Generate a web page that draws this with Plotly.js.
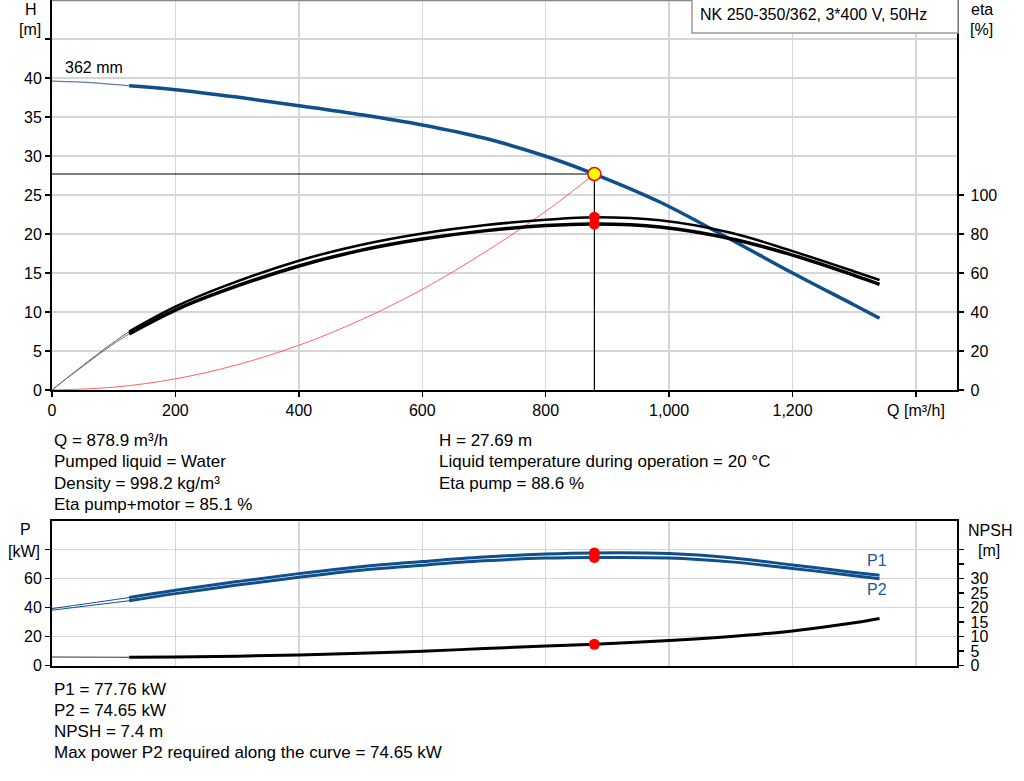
<!DOCTYPE html>
<html><head><meta charset="utf-8">
<script src="https://cdn.plot.ly/plotly-3.0.1.min.js"></script>
<style>html,body{margin:0;padding:0;background:#fff;}#chart{width:1024px;height:781px;}</style>
</head><body><div id="chart"></div>
<script>
// ---- data ----
const opQ = 878.9, opH = 27.69, opEtaPump = 88.6, opEtaPM = 85.1, opP1 = 77.76, opP2 = 74.65, opNPSH = 7.4;

const qHThin = [0, 40, 80, 125];
const hThin = [39.6, 39.5, 39.3, 39.0];
const qH = [125, 200, 300, 400, 500, 600, 700, 800, 878.9, 985, 1100, 1200, 1300, 1341];
const hMain = [39.0, 38.5, 37.55, 36.45, 35.3, 33.98, 32.3, 29.97, 27.69, 24.1, 19.3, 15.0, 10.9, 9.2];

const qSys = [0, 100, 200, 300, 400, 500, 600, 700, 800, 878.9];
const hSys = [0, 0.36, 1.43, 3.23, 5.73, 8.96, 12.9, 17.6, 22.9, 27.69];

const qEtaThin = [0, 30, 60, 90, 125];
const etaPumpThin = [0, 7.6, 15.0, 22.2, 30.0];
const etaPMThin = [0, 7.4, 14.5, 21.5, 28.8];
const qEta = [125, 200, 274, 400, 500, 600, 700, 800, 878.9, 985, 1100, 1200, 1300, 1341];
const etaPump = [30.0, 42.7, 52.6, 66.3, 74.4, 80.3, 84.5, 87.3, 88.6, 87.0, 80.6, 71.2, 60.8, 56.4];
const etaPM = [28.8, 41.0, 50.4, 63.6, 71.6, 77.4, 81.6, 84.3, 85.1, 83.6, 77.6, 69.2, 58.8, 54.2];

const qPThin = [0, 60, 125];
const p1Thin = [39.4, 43.0, 47.0];
const p2Thin = [38.3, 41.4, 44.8];
const qP = [125, 200, 300, 400, 500, 600, 700, 800, 878.9, 1000, 1100, 1200, 1300, 1341];
const p1 = [47.0, 52.0, 58.0, 63.5, 68.3, 71.8, 74.9, 77.0, 77.76, 77.3, 74.4, 69.5, 64.3, 62.3];
const p2 = [44.8, 49.7, 55.6, 61.0, 65.8, 69.3, 72.3, 74.2, 74.65, 74.3, 71.6, 67.1, 62.1, 60.0];

const qNThin = [0, 125];
const npshThin = [3.0, 2.9];
const qN = [125, 200, 300, 400, 500, 600, 700, 800, 878.9, 1000, 1100, 1200, 1300, 1341];
const npsh = [2.9, 3.0, 3.3, 3.7, 4.3, 5.0, 5.9, 6.75, 7.4, 8.7, 10.1, 12.0, 14.8, 16.3];

const qTicks = [0, 200, 400, 600, 800, 1000, 1200, 1400];
const qTickText = ['0', '200', '400', '600', '800', '1,000', '1,200', 'Q [m³/h]'];
const hTicks = [0, 5, 10, 15, 20, 25, 30, 35, 40, 45];
const hTickText = ['0', '5', '10', '15', '20', '25', '30', '35', '40', ''];
const etaTicks = [0, 20, 40, 60, 80, 100];
const pTicks = [0, 20, 40, 60, 80];
const pTickText = ['0', '20', '40', '60', ''];
const nTicks = [0, 5, 10, 15, 20, 25, 30, 35, 40];
const nTickText = ['0', '5', '10', '15', '20', '25', '30', '', ''];

const infoLeft = ['Q = 878.9 m³/h', 'Pumped liquid = Water', 'Density = 998.2 kg/m³', 'Eta pump+motor = 85.1 %'];
const infoRight = ['H = 27.69 m', 'Liquid temperature during operation = 20 °C', 'Eta pump = 88.6 %'];
const infoBottom = ['P1 = 77.76 kW', 'P2 = 74.65 kW', 'NPSH = 7.4 m', 'Max power P2 required along the curve = 74.65 kW'];

// ---- styling ----
const BLUE = '#0f4f8c';
const FONT = 'Liberation Sans, Arial, sans-serif';
const W = 1024, Hh = 781;
const px = x => x / W, py = y => 1 - y / Hh;

const traces = [];
const line = (x, y, color, width, xa, ya, extra) => Object.assign({
  type: 'scatter', mode: 'lines', x: x, y: y, xaxis: xa, yaxis: ya,
  line: {color: color, width: width, shape: 'spline', smoothing: 1}, hoverinfo: 'skip'
}, extra || {});

// operating point lines
traces.push(line([0, opQ], [opH, opH], '#000', 1, 'x', 'y', {line: {color: '#000', width: 1.2}}));
traces.push(line([opQ, opQ], [0, opH], '#000', 1, 'x', 'y', {line: {color: '#000', width: 1.2}}));
// system curve
traces.push(line(qSys, hSys, 'rgba(255,60,60,0.8)', 1, 'x', 'y'));
// eta curves
traces.push(line(qEtaThin, etaPumpThin, '#555', 1, 'x', 'y2'));
traces.push(line(qEtaThin, etaPMThin, '#777', 1, 'x', 'y2'));
traces.push(line(qEta, etaPump, '#000', 2.5, 'x', 'y2'));
traces.push(line(qEta, etaPM, '#000', 3.5, 'x', 'y2'));
// H curve
traces.push(line(qHThin, hThin, '#5a7fa8', 1.2, 'x', 'y'));
traces.push(line(qH, hMain, BLUE, 3.5, 'x', 'y'));
// markers top
traces.push({type: 'scatter', mode: 'markers', x: [opQ, opQ], y: [opEtaPump, opEtaPM], xaxis: 'x', yaxis: 'y2',
  marker: {color: '#ff0000', size: 11}, hoverinfo: 'skip'});
traces.push({type: 'scatter', mode: 'markers', x: [opQ], y: [opH], xaxis: 'x', yaxis: 'y',
  marker: {color: '#ffff00', size: 13, line: {color: '#ff0000', width: 1.5}}, hoverinfo: 'skip'});

// bottom chart
traces.push(line(qNThin, npshThin, '#333', 1, 'x2', 'y4'));
traces.push(line(qN, npsh, '#000', 3, 'x2', 'y4'));
traces.push(line(qPThin, p1Thin, BLUE, 1, 'x2', 'y3'));
traces.push(line(qPThin, p2Thin, BLUE, 1, 'x2', 'y3'));
traces.push(line(qP, p1, BLUE, 3, 'x2', 'y3'));
traces.push(line(qP, p2, BLUE, 3, 'x2', 'y3'));
traces.push({type: 'scatter', mode: 'markers', x: [opQ, opQ], y: [opP1, opP2], xaxis: 'x2', yaxis: 'y3',
  marker: {color: '#ff0000', size: 11}, hoverinfo: 'skip'});
traces.push({type: 'scatter', mode: 'markers', x: [opQ], y: [opNPSH], xaxis: 'x2', yaxis: 'y4',
  marker: {color: '#ff0000', size: 11}, hoverinfo: 'skip'});

const xDom = [px(52), px(957.3)];
const topDom = [py(390), 1];
const botDom = [py(665.7), py(520.7)];
const tickFont = {family: FONT, size: 16, color: '#000'};
const common = {showline: true, linecolor: '#000', linewidth: 2, ticks: 'outside', ticklen: 5,
  tickcolor: '#000', tickwidth: 1.5, zeroline: false, tickfont: tickFont, fixedrange: true,
  gridcolor: '#d6d6d6', gridwidth: 1.5};

const annotations = [];
const txt = (t, x, y, anchor, color, size) => annotations.push({text: t, xref: 'paper', yref: 'paper',
  x: px(x), y: py(y), xanchor: anchor || 'left', yanchor: 'middle', showarrow: false,
  font: {family: FONT, size: size || 16, color: color || '#000'}});

txt('H', 31, 9, 'center'); txt('[m]', 30, 29, 'center');
txt('eta', 982, 10, 'center'); txt('[%]', 981, 30, 'center');
txt('362 mm', 63, 67);
txt('NK 250-350/362, 3*400 V, 50Hz', 698, 15);
infoLeft.forEach((t, i) => txt(t, 52, 440.5 + i * 21.4, 'left', '#000', 17));
infoRight.forEach((t, i) => txt(t, 437, 440.5 + i * 21.4, 'left', '#000', 17));
txt('P', 25, 529, 'center'); txt('[kW]', 24, 551, 'center');
txt('NPSH', 990, 530, 'center'); txt('[m]', 989, 550, 'center');
txt('P1', 865, 560, 'left', '#1c5a99'); txt('P2', 865, 589, 'left', '#1c5a99');
infoBottom.forEach((t, i) => txt(t, 52, 689 + i * 21, 'left', '#000', 17));

const layout = {
  width: W, height: Hh, margin: {l: 0, r: 0, t: 0, b: 0, pad: 0},
  paper_bgcolor: '#fff', plot_bgcolor: '#fff', showlegend: false,
  font: {family: FONT, size: 16, color: '#000'},
  xaxis: Object.assign({}, common, {domain: xDom, range: [0, 1467], anchor: 'y',
    tickmode: 'array', tickvals: qTicks, ticktext: qTickText, showgrid: true}),
  yaxis: Object.assign({}, common, {domain: topDom, range: [0, 50], anchor: 'x',
    tickmode: 'array', tickvals: hTicks, ticktext: hTickText, showgrid: true}),
  yaxis2: Object.assign({}, common, {overlaying: 'y', side: 'right', range: [0, 200], anchor: 'x',
    tickmode: 'array', tickvals: etaTicks, showgrid: false, ticklabelstandoff: 3}),
  xaxis2: Object.assign({}, common, {domain: xDom, range: [0, 1467], anchor: 'y3', ticks: '',
    tickmode: 'array', tickvals: qTicks, showticklabels: false, showgrid: true, mirror: true}),
  yaxis3: Object.assign({}, common, {domain: botDom, range: [0, 100], anchor: 'x2',
    tickmode: 'array', tickvals: pTicks, ticktext: pTickText, showgrid: true}),
  yaxis4: Object.assign({}, common, {overlaying: 'y3', side: 'right', range: [0, 50], anchor: 'x2',
    tickmode: 'array', tickvals: nTicks, ticktext: nTickText, showgrid: false, ticklabelstandoff: 3}),
  shapes: [
    {type: 'line', xref: 'paper', yref: 'paper', x0: xDom[0], x1: xDom[1], y0: 0.9995, y1: 0.9995,
      line: {color: '#888', width: 1.5}},
    {type: 'rect', xref: 'paper', yref: 'paper', x0: px(692), x1: px(958), y0: py(33), y1: py(-2),
      line: {color: '#999', width: 1.5}, fillcolor: '#fff', layer: 'above'}
  ],
  annotations: annotations
};

Plotly.newPlot('chart', traces, layout, {displayModeBar: false, staticPlot: true});
</script>
</body></html>
